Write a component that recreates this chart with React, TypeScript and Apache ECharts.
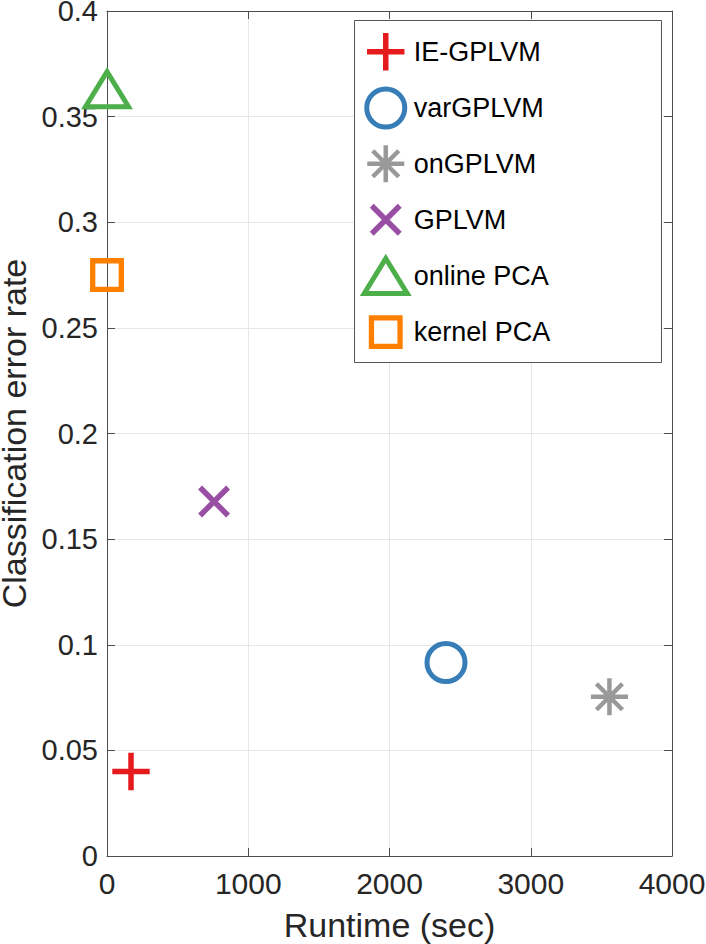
import React, { useEffect, useRef } from 'react';
import * as echarts from 'echarts';

// ---- data ----
const seriesNames = ['IE-GPLVM', 'varGPLVM', 'onGPLVM', 'GPLVM', 'online PCA', 'kernel PCA'];
const runtimeSec = [170, 2400, 3557, 758, 0, 0];
const errorRate = [0.04, 0.0916, 0.0754, 0.1678, 0.363, 0.275];
const seriesColors = ['#e41a1c', '#377eb8', '#999999', '#984ea3', '#4daf4a', '#ff7f00'];
const xTickValues = [0, 1000, 2000, 3000, 4000];
const yTickValues = [0, 0.05, 0.1, 0.15, 0.2, 0.25, 0.3, 0.35, 0.4];

// marker shapes (padded to a common 46x46 box so plot and legend match)
const PAD = 'M-23,-23 M23,23 ';
const markerPaths = [
  PAD + 'M0,-18.7 L0,18.7 M-18.7,0 L18.7,0',
  PAD + 'M-19,0 A19,19 0 1 1 19,0 A19,19 0 1 1 -19,0 Z',
  PAD + 'M0,-18.5 L0,18.5 M-18.5,0 L18.5,0 M-13,-13 L13,13 M-13,13 L13,-13',
  PAD + 'M-14,-14 L14,14 M-14,14 L14,-14',
  PAD + 'M0,-17.5 L21.5,17.5 L-21.5,17.5 Z',
  PAD + 'M-14.3,-14.3 L14.3,-14.3 L14.3,14.3 L-14.3,14.3 Z',
];
const markerStroke = [5.5, 5, 4.5, 5.5, 5, 5.3];

const FONT = '"Liberation Sans", Arial, Helvetica, sans-serif';
const TEXT_COLOR = '#262626';
const AXIS_COLOR = '#4d4d4d';

export default function App() {
  const ref = useRef<HTMLDivElement>(null);

  useEffect(() => {
    if (!ref.current) return;
    const chart = echarts.init(ref.current, null, { renderer: 'svg' });

    const xMin = xTickValues[0];
    const xMax = xTickValues[xTickValues.length - 1];
    const xInt = xTickValues[1] - xTickValues[0];
    const yMin = yTickValues[0];
    const yMax = yTickValues[yTickValues.length - 1];
    const yInt = yTickValues[1] - yTickValues[0];

    const tickCommon = {
      axisTick: { show: true, inside: true, length: 8, lineStyle: { color: AXIS_COLOR, width: 1 } },
      axisLine: { show: true, onZero: false, lineStyle: { color: AXIS_COLOR, width: 1 } },
    };

    const series = seriesNames.map((name, i) => ({
      name,
      type: 'scatter',
      clip: false,
      symbol: 'path://' + markerPaths[i],
      symbolSize: 46,
      symbolKeepAspect: true,
      data: [[runtimeSec[i], errorRate[i]]],
      itemStyle: {
        color: 'rgba(0,0,0,0)',
        borderColor: seriesColors[i],
        borderWidth: markerStroke[i],
        borderJoin: 'miter',
        borderMiterLimit: 10,
        borderCap: 'butt',
        opacity: 1,
      },
      emphasis: { disabled: true },
      z: 5,
    }));

    chart.setOption({
      animation: false,
      backgroundColor: '#ffffff',
      grid: {
        left: 107,
        top: 11,
        right: 34,
        bottom: 88,
        containLabel: false,
        outerBoundsMode: 'none',
      },
      xAxis: [
        {
          type: 'value',
          min: xMin,
          max: xMax,
          interval: xInt,
          position: 'bottom',
          name: 'Runtime (sec)',
          nameLocation: 'middle',
          nameGap: 52,
          nameTextStyle: { fontSize: 34, color: TEXT_COLOR, fontFamily: FONT },
          axisLabel: {
            fontSize: 30,
            color: TEXT_COLOR,
            fontFamily: FONT,
            margin: 12,
            hideOverlap: false,
            formatter: (v: number) => String(v),
          },
          splitLine: { show: true, lineStyle: { color: '#e6e6e6', width: 1 } },
          ...tickCommon,
        },
        {
          type: 'value',
          min: xMin,
          max: xMax,
          interval: xInt,
          position: 'top',
          axisLabel: { show: false },
          splitLine: { show: false },
          ...tickCommon,
        },
      ],
      yAxis: [
        {
          type: 'value',
          min: yMin,
          max: yMax,
          interval: yInt,
          position: 'left',
          name: 'Classification error rate',
          nameLocation: 'middle',
          nameRotate: 90,
          nameGap: 76,
          nameTextStyle: { fontSize: 34, lineHeight: 30, color: TEXT_COLOR, fontFamily: FONT },
          axisLabel: {
            fontSize: 29,
            lineHeight: 22,
            color: TEXT_COLOR,
            fontFamily: FONT,
            margin: 9,
            formatter: (v: number) => String(+v.toFixed(2)),
          },
          splitLine: { show: true, lineStyle: { color: '#e6e6e6', width: 1 } },
          ...tickCommon,
        },
        {
          type: 'value',
          min: yMin,
          max: yMax,
          interval: yInt,
          position: 'right',
          axisLabel: { show: false },
          splitLine: { show: false },
          ...tickCommon,
        },
      ],
      legend: {
        show: true,
        orient: 'vertical',
        left: 354,
        top: 20,
        padding: [6, 0, 8, 6],
        itemWidth: 46,
        itemHeight: 46,
        itemGap: 5,
        selectedMode: false,
        z: 6,
        textStyle: { fontSize: 27, color: '#000000', fontFamily: FONT },
        itemStyle: { borderWidth: 'inherit', borderJoin: 'inherit', borderColor: 'inherit', color: 'inherit' },
        data: seriesNames.map((name, i) => ({ name, icon: 'path://' + markerPaths[i] })),
      },
      graphic: [
        {
          type: 'rect',
          z: 4,
          shape: { x: 354.5, y: 20.5, width: 307, height: 342 },
          style: { fill: '#ffffff', stroke: '#555555', lineWidth: 1 },
          silent: true,
        },
      ],
      series,
    });

    return () => chart.dispose();
  }, []);

  return (
    <div
      ref={ref}
      style={{ position: 'absolute', left: 0, top: 0, width: 706, height: 944 }}
    />
  );
}
